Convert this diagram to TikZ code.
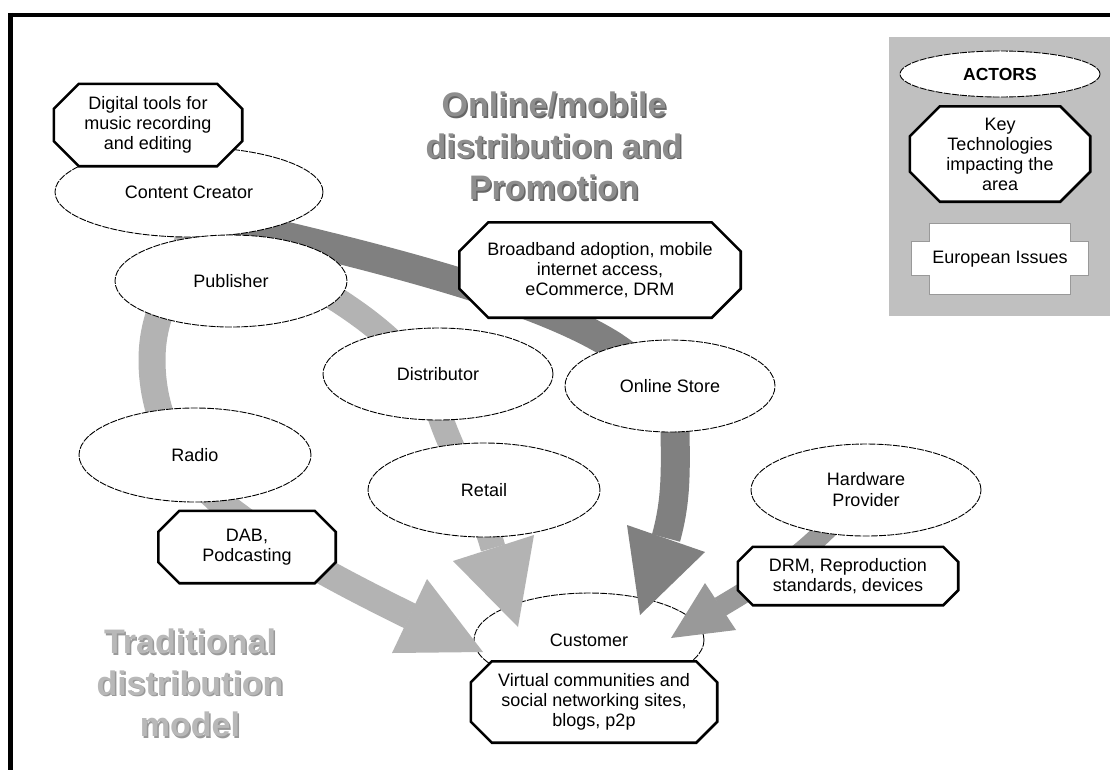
\documentclass[tikz,border=0pt]{standalone}
\usepackage{fontspec}
\setmainfont{Liberation Sans}
\usetikzlibrary{shapes.geometric}
\pgfdeclarelayer{bands}
\pgfdeclarelayer{ells}
\pgfdeclarelayer{heads}
\pgfdeclarelayer{octs}
\pgfsetlayers{bands,ells,heads,octs,main}
\definecolor{darkband}{HTML}{808080}
\definecolor{lightband}{HTML}{B3B3B3}
\definecolor{drmband}{HTML}{999999}
\definecolor{legendbg}{HTML}{C0C0C0}
\definecolor{titleA}{HTML}{8E8E8E}
\definecolor{titleAsh}{HTML}{666666}
\definecolor{titleB}{HTML}{B8B8B8}
\definecolor{titleBsh}{HTML}{999999}
\definecolor{euroline}{HTML}{999999}
\tikzset{
  actor/.style={ellipse, draw=black, line width=0.9pt, dash pattern=on 7pt off 1.2pt,
    fill=white, inner sep=0pt, align=center, font=\fontsize{18}{21}\selectfont},
  tech/.style={rectangle, inner sep=0pt, align=center, font=\fontsize{18}{20}\selectfont},
  octline/.style={draw=black, line width=2.6pt, fill=white, line join=miter},
  bandline/.style={line cap=butt, line join=round},
  titletext/.style={font=\bfseries\fontsize{34}{41.5}\selectfont, align=center}
}
\newcommand\octfor[2]{%
  \begin{pgfonlayer}{octs}
  \path[octline] ([xshift=#2]#1.north west) -- ([xshift=-#2]#1.north east)
    -- ([yshift=-#2]#1.north east) -- ([yshift=#2]#1.south east)
    -- ([xshift=-#2]#1.south east) -- ([xshift=#2]#1.south west)
    -- ([yshift=#2]#1.south west) -- ([yshift=-#2]#1.north west) -- cycle;
  \end{pgfonlayer}}
\begin{document}
\begin{tikzpicture}[x=1pt,y=-1pt]
\useasboundingbox (0,0) rectangle (1110,769);

% ---------- actors (ellipses) ----------
\begin{pgfonlayer}{ells}
\node[actor, minimum width=268pt, minimum height=90pt] (cc) at (189,192) {Content Creator};
\node[actor, minimum width=232pt, minimum height=92pt] (pub) at (231,281) {Publisher};
\node[actor, minimum width=230pt, minimum height=92pt] (dist) at (438,374) {Distributor};
\node[actor, minimum width=232pt, minimum height=94pt] (radio) at (195,455) {Radio};
\node[actor, minimum width=232pt, minimum height=94pt] (retail) at (484,490) {Retail};
\node[actor, minimum width=210pt, minimum height=92pt] (store) at (670,386) {Online Store};
\node[actor, minimum width=230pt, minimum height=92pt] (hw) at (866,490) {Hardware\\Provider};
\node[actor, minimum width=230pt, minimum height=94pt] (cust) at (589,640) {Customer};
\node[actor, minimum width=200pt, minimum height=46pt, font=\bfseries\fontsize{17.5}{20}\selectfont] (actors) at (1000,74) {ACTORS};
\end{pgfonlayer}

% ---------- key technologies (octagons) ----------
\node[tech, minimum width=188pt, minimum height=82pt] (dig) at (148,125) {Digital tools for\\music recording\\and editing};
\octfor{dig}{25pt}
\node[tech, minimum width=281pt, minimum height=95pt] (bb) at (600,270) {Broadband adoption, mobile\\internet access,\\eCommerce, DRM};
\octfor{bb}{29pt}
\node[tech, minimum width=177pt, minimum height=72pt] (dab) at (247,547) {DAB,\\Podcasting};
\octfor{dab}{21pt}
\node[tech, minimum width=220pt, minimum height=58pt] (drm) at (848,576) {DRM, Reproduction\\standards, devices};
\octfor{drm}{15pt}
\node[tech, minimum width=246pt, minimum height=81pt] (virt) at (594,702) {Virtual communities and\\social networking sites,\\blogs, p2p};
\octfor{virt}{21pt}
\node[tech, minimum width=180pt, minimum height=95pt] (key) at (1000,154) {Key\\Technologies\\impacting the\\area};
\octfor{key}{30pt}

% ---------- European issues ----------
\node[tech, minimum width=176pt, minimum height=70pt] (euro) at (1000,259) {European Issues};
\begin{pgfonlayer}{octs}
\path[draw=euroline, line width=1.2pt, fill=white]
  ([xshift=18pt]euro.north west) -- ([xshift=-18pt]euro.north east)
  -- ([xshift=-18pt,yshift=-18pt]euro.north east) -- ([yshift=-18pt]euro.north east)
  -- ([yshift=19pt]euro.south east) -- ([xshift=-18pt,yshift=19pt]euro.south east)
  -- ([xshift=-18pt]euro.south east) -- ([xshift=18pt]euro.south west)
  -- ([xshift=18pt,yshift=19pt]euro.south west) -- ([yshift=19pt]euro.south west)
  -- ([yshift=-18pt]euro.north west) -- ([xshift=18pt,yshift=-18pt]euro.north west) -- cycle;
\end{pgfonlayer}

% ---------- titles ----------
\node[titletext, text=titleAsh] (ttlsh) at (555.5,147.5) {Online/mobile\\distribution and\\Promotion};
\node[titletext, text=titleA] (ttl) at (554,146) {Online/mobile\\distribution and\\Promotion};
\node[titletext, text=titleBsh] (tradsh) at (191.5,684.5) {Traditional\\distribution\\model};
\node[titletext, text=titleB] (trad) at (190,683) {Traditional\\distribution\\model};

% ---------- arrow geometry ----------
\coordinate (darkbase) at (666,538);
\coordinate (darkL) at (627,525);
\coordinate (darkR) at (705,552);
\coordinate (darktip) at (640,615);
\coordinate (lbaseA) at (410,616);
\coordinate (lAL) at (427,579);
\coordinate (lAR) at (392,653);
\coordinate (ltipA) at (483,652);
\coordinate (lbaseB) at (493,548);
\coordinate (lBL) at (453,561);
\coordinate (lBR) at (534,535);
\coordinate (ltipB) at (518,627);
\coordinate (drmbase) at (720,607);
\coordinate (drmL) at (705,583);
\coordinate (drmR) at (736,630);
\coordinate (drmtip) at (671,638);

% ---------- bands ----------
\begin{pgfonlayer}{bands}
\fill[white] (0,0) rectangle (1110,769);
\fill[legendbg] (889,37) rectangle (1112,316);
\draw[line width=4.5pt] (8.25,15) -- (1112,15);
\draw[line width=4.5pt] (10.5,12.75) -- (10.5,771);
% online / mobile path
\draw[bandline, draw=darkband, line width=29pt] (cc.center) -- (225,222)
  .. controls (400,262) and (540,300) .. (612,345)
  .. controls (650,370) and (675,400) .. (675,432)
  .. controls (676,480) and (675,505) .. (darkbase);
% traditional: via radio
\draw[bandline, draw=lightband, line width=27pt] (cc.center) -- (190,225)
  .. controls (186,275) and (152,300) .. (152,360)
  .. controls (152,420) and (180,470) .. (230,510)
  .. controls (270,540) and (300,562) .. (lbaseA);
% traditional: via distributor and retail
\draw[bandline, draw=lightband, line width=25pt] (pub.center) -- (290,272)
  .. controls (350,305) and (420,350) .. (438,410)
  .. controls (450,450) and (480,500) .. (lbaseB);
% hardware
\draw[bandline, draw=drmband, line width=21pt] (hw.center) -- (850,505)
  .. controls (800,560) and (765,580) .. (drmbase);
\end{pgfonlayer}

% ---------- arrow heads ----------
\begin{pgfonlayer}{heads}
\fill[darkband] (darkL) -- (darkR) -- (darktip) -- cycle;
\fill[lightband] (lAL) -- (lAR) -- (ltipA) -- cycle;
\fill[lightband] (lBL) -- (lBR) -- (ltipB) -- cycle;
\fill[drmband] (drmL) -- (drmR) -- (drmtip) -- cycle;
\end{pgfonlayer}
\end{tikzpicture}
\end{document}
